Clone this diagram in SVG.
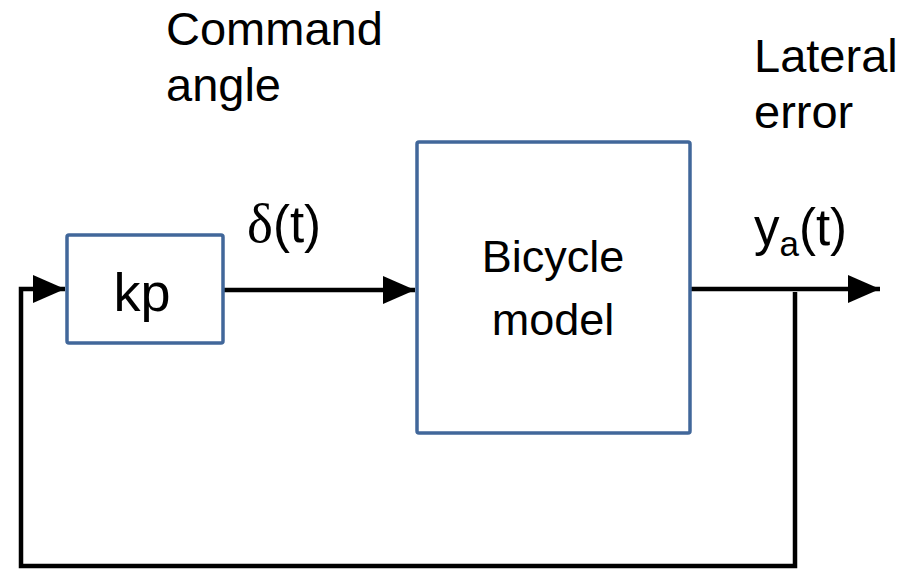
<svg xmlns="http://www.w3.org/2000/svg" width="910" height="570" viewBox="0 0 910 570">
<style>
.box{fill:#fff;stroke:#41679A;stroke-width:3.5}
.ln{fill:none;stroke:#000;stroke-width:4.5}
.t{font-family:"Liberation Sans",Arial,sans-serif;font-size:47px;fill:#000}
.c{text-anchor:middle}
</style>
<defs>
<marker id="ah" markerUnits="userSpaceOnUse" markerWidth="34" markerHeight="32" refX="32" refY="16" orient="auto">
<polygon points="0,2 32,16 0,30" fill="#000"/>
</marker>
</defs>
<g id="connectors">
<polyline class="ln" points="795,292 795,566 21,566 21,289 65,289" marker-end="url(#ah)"/>
<line class="ln" x1="223" y1="290" x2="415" y2="290" marker-end="url(#ah)"/>
<line class="ln" x1="690" y1="289" x2="880" y2="289" marker-end="url(#ah)"/>
</g>
<g id="kp">
<rect class="box" x="67" y="235" width="156" height="108" rx="2"/>
<text class="t c" x="142" y="311" style="font-size:54px">kp</text>
</g>
<g id="bicycle">
<rect class="box" x="417" y="142" width="273" height="291" rx="2"/>
<text class="t c" x="553" y="272" style="font-size:45px">Bicycle</text>
<text class="t c" x="553" y="335" style="font-size:45px">model</text>
</g>
<g id="labels">
<text class="t" x="166" y="45">Command</text>
<text class="t" x="166" y="101">angle</text>
<text class="t" x="754" y="72">Lateral</text>
<text class="t" x="754" y="128">error</text>
<text class="t" x="247" y="242" style="font-size:51px"><tspan font-family="'Liberation Serif',serif" style="font-size:55px">δ</tspan>(t)</text>
<text class="t" x="754" y="245" style="font-size:51px">y<tspan style="font-size:35px" dy="11">a</tspan><tspan dy="-11">(t)</tspan></text>
</g>
</svg>
